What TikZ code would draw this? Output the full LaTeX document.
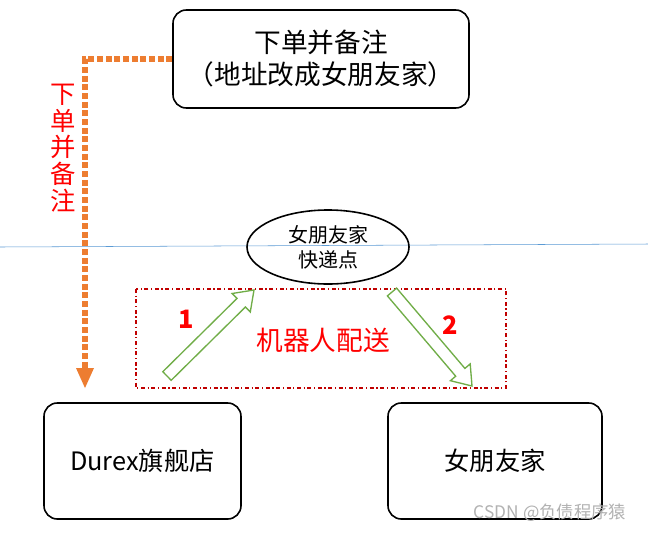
\documentclass[tikz,border=0pt]{standalone}
\usepackage{fontspec}
\usetikzlibrary{shapes.geometric}
\setmainfont{Noto Sans CJK SC}
\definecolor{orn}{RGB}{237,125,49}
\definecolor{grn}{RGB}{112,173,71}
\definecolor{dred}{RGB}{192,0,0}
\begin{document}
\begin{tikzpicture}[x=0.75pt,y=-0.75pt,
 box/.style={draw,line width=1.2pt,rounded corners=10pt,align=center,inner sep=0pt},
 harrow/.style={draw=grn,fill=white,line width=1pt}]
\useasboundingbox (0,0) rectangle (648,532);
\fill[white] (0,0) rectangle (648,532);
\draw[color={rgb,255:red,91;green,155;blue,213},thin] (0,247) -- (648,244);
\node[box,minimum width=296*0.75pt,minimum height=98*0.75pt,font=\fontsize{20}{24}\selectfont] (top) at (321,59) {下单并备注\\（地址改成女朋友家）};
\coordinate (c1) at (85,59);
\coordinate (c2) at (85,388);
\draw[orn,line width=4.5pt,dotted,line cap=butt] (top.west) -- (c1) -- (85,372);
\fill[orn] (76,368) -- (94,368) -- (c2) -- cycle;
\node[red,align=center,font=\fontsize{19}{20}\selectfont] (vt) at (63,148) {下\\单\\并\\备\\注};
\node[draw,line width=1.2pt,ellipse,minimum width=162*0.75pt,minimum height=74*0.75pt,inner sep=0pt,align=center,font=\fontsize{15}{19}\selectfont] (el) at (328,247) {女朋友家\\快递点};
\draw[dred,line width=0.8pt,dash dot] (136,289) rectangle (506,388);
\node[red,font=\fontsize{20}{24}\selectfont] (rb) at (323,340) {机器人配送};
\node[red,font=\bfseries\fontsize{19}{23}\selectfont] (n1) at (186,319) {1};
\node[red,font=\bfseries\fontsize{19}{23}\selectfont] (n2) at (450,325) {2};
\draw[harrow] (171.2,380.3) -- (245.4,307.0) -- (250.3,311.9) -- (254,290) -- (232.1,293.5) -- (237.0,298.4) -- (162.8,371.7) -- cycle;
\draw[harrow] (387.4,295.9) -- (455.7,376.2) -- (450.4,380.7) -- (472,386) -- (470.2,363.9) -- (464.9,368.4) -- (396.6,288.1) -- cycle;
\node[box,minimum width=197*0.75pt,minimum height=116*0.75pt,font=\fontsize{19}{23}\selectfont] (dx) at (142.5,461) {Durex旗舰店};
\node[box,minimum width=214*0.75pt,minimum height=116*0.75pt,font=\fontsize{19}{23}\selectfont] (gf) at (495,461) {女朋友家};
\node[gray!60,font=\fontsize{13}{15}\selectfont] (wm) at (550,513) {CSDN @负债程序猿};
\end{tikzpicture}
\end{document}
